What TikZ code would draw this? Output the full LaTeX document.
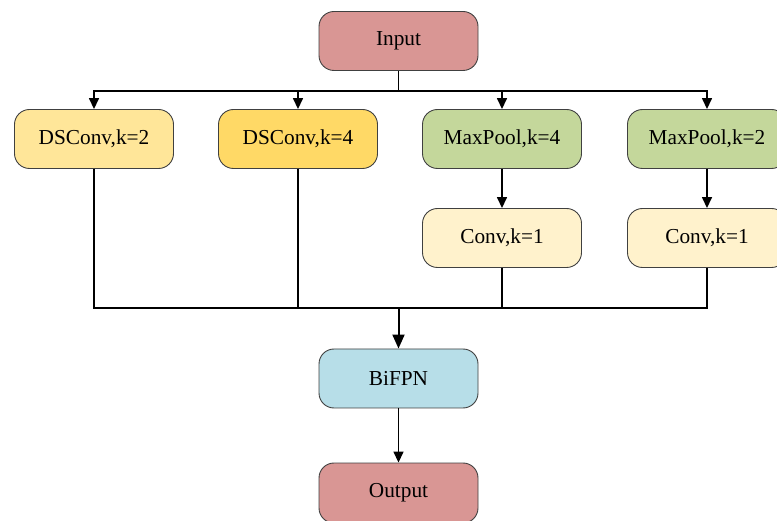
\documentclass[tikz,border=0pt]{standalone}
\usepackage{fontspec}
\setmainfont{Liberation Serif}
\usetikzlibrary{arrows.meta}
\definecolor{cio}{RGB}{217,150,148}
\definecolor{cds2}{RGB}{255,230,153}
\definecolor{cds4}{RGB}{255,217,102}
\definecolor{cmp}{RGB}{196,215,155}
\definecolor{ccv}{RGB}{255,242,204}
\definecolor{cbf}{RGB}{183,222,232}
\tikzset{
  blk/.style={draw=black!75, line width=0.9pt, rounded corners=15pt, minimum width=159pt, minimum height=59pt, inner sep=0pt, font=\fontsize{21.3}{24}\selectfont},
  con/.style={draw=black, line width=1.5pt},
  arr/.style={con, -{Triangle[length=11pt,width=10pt]}},
  bigarr/.style={draw=black, line width=2pt, -{Triangle[length=14pt,width=12pt]}}
}
\begin{document}
\begin{tikzpicture}[x=1pt,y=-1pt]
\useasboundingbox (0,0) rectangle (777,521);
\clip (0,0) rectangle (777,521);
\node[blk, fill=cio] (in) at (398.5,41) {Input};
\node[blk, fill=cds2] (d2) at (94,139) {DSConv,k=2};
\node[blk, fill=cds4] (d4) at (298,139) {DSConv,k=4};
\node[blk, fill=cmp] (m4) at (502,139) {MaxPool,k=4};
\node[blk, fill=cmp] (m2) at (707,139) {MaxPool,k=2};
\node[blk, fill=ccv] (c4) at (502,238) {Conv,k=1};
\node[blk, fill=ccv] (c2) at (707,238) {Conv,k=1};
\node[blk, fill=cbf] (bf) at (398.5,378.5) {BiFPN};
\node[blk, fill=cio, minimum height=60pt] (out) at (398.5,493) {Output};
\coordinate (bus) at (398.5,91);
\coordinate (bus2) at (398.5,308);
\draw[con] (in) -- (bus);
\draw[arr] (bus) -| (d2);
\draw[arr] (bus) -| (d4);
\draw[arr] (bus) -| (m4);
\draw[arr] (bus) -| (m2);
\draw[arr] (m4) -- (c4);
\draw[arr] (m2) -- (c2);
\draw[con] (d2) |- (bus2);
\draw[con] (d4) |- (bus2);
\draw[con] (c4) |- (bus2);
\draw[con] (c2) |- (bus2);
\draw[bigarr] (bus2) -- (bf);
\draw[arr] (bf) -- (out);
\end{tikzpicture}
\end{document}
